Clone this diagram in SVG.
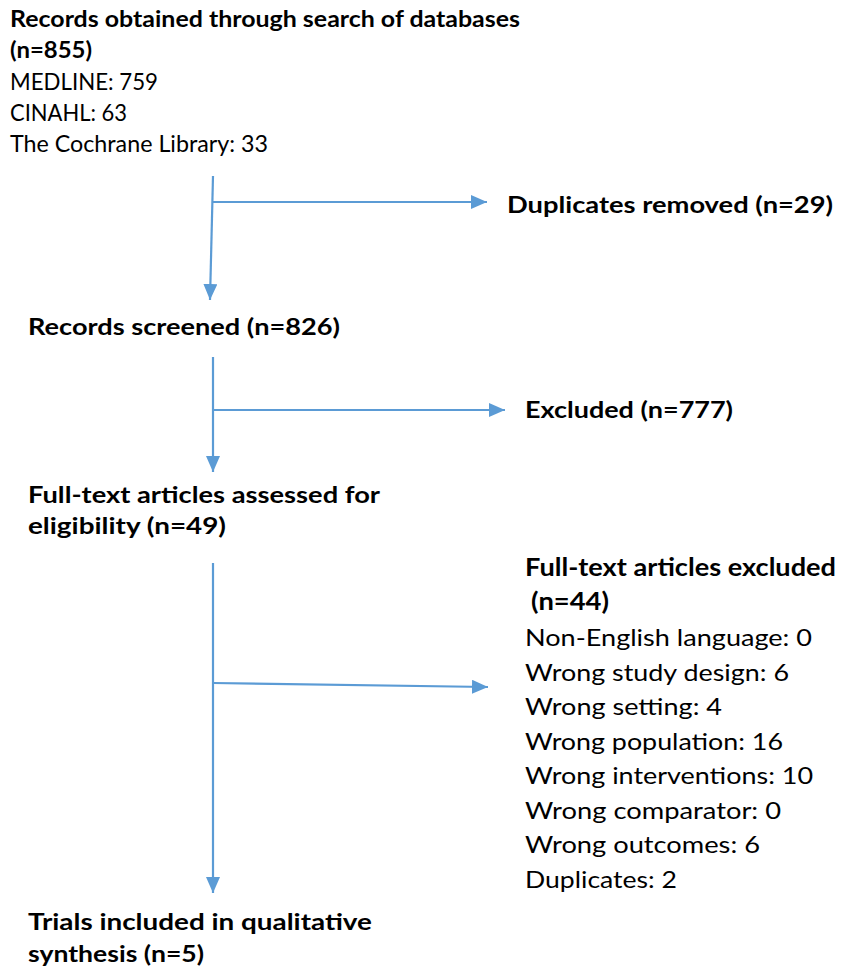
<svg xmlns="http://www.w3.org/2000/svg" width="841" height="975" viewBox="0 0 841 975">
<style>
text{font-family:Lato,"Liberation Sans",sans-serif;fill:#000;}
.b{font-weight:bold;font-size:23px;}
.r{font-size:23px;}
.rb{font-weight:bold;font-size:24px;}
.rr{font-size:24px;}
.c{stroke:#5B9BD5;stroke-width:2.2;fill:none;}
</style>
<defs>
<marker id="a" markerWidth="16" markerHeight="14" refX="16" refY="7" orient="auto" markerUnits="userSpaceOnUse">
<path d="M0,0 L16,7 L0,14 z" fill="#5B9BD5"/>
</marker>
</defs>
<g id="n1">
<text class="b" x="10" y="27" textLength="510" lengthAdjust="spacingAndGlyphs">Records obtained through search of databases</text>
<text class="b" x="10" y="58" textLength="82" lengthAdjust="spacingAndGlyphs">(n=855)</text>
<text class="r" x="10" y="90" textLength="148" lengthAdjust="spacingAndGlyphs">MEDLINE: 759</text>
<text class="r" x="10" y="121" textLength="117" lengthAdjust="spacingAndGlyphs">CINAHL: 63</text>
<text class="r" x="10" y="152" textLength="258" lengthAdjust="spacingAndGlyphs">The Cochrane Library: 33</text>
</g>
<g id="n2">
<text class="b" x="507" y="213" textLength="326" lengthAdjust="spacingAndGlyphs">Duplicates removed (n=29)</text>
</g>
<g id="n3">
<text class="b" x="28" y="335" textLength="312" lengthAdjust="spacingAndGlyphs">Records screened (n=826)</text>
</g>
<g id="n4">
<text class="b" x="525" y="418" textLength="208" lengthAdjust="spacingAndGlyphs">Excluded (n=777)</text>
</g>
<g id="n5">
<text class="b" x="28" y="503" textLength="352" lengthAdjust="spacingAndGlyphs">Full-text articles assessed for</text>
<text class="b" x="28" y="534" textLength="198" lengthAdjust="spacingAndGlyphs">eligibility (n=49)</text>
</g>
<g id="n6">
<text class="rb" x="525" y="576" textLength="311" lengthAdjust="spacingAndGlyphs">Full-text articles excluded</text>
<text class="rb" x="531" y="610" textLength="78" lengthAdjust="spacingAndGlyphs">(n=44)</text>
<text class="rr" x="525" y="646" textLength="287" lengthAdjust="spacingAndGlyphs">Non-English language: 0</text>
<text class="rr" x="525" y="681" textLength="264" lengthAdjust="spacingAndGlyphs">Wrong study design: 6</text>
<text class="rr" x="525" y="715" textLength="197" lengthAdjust="spacingAndGlyphs">Wrong setting: 4</text>
<text class="rr" x="525" y="750" textLength="258" lengthAdjust="spacingAndGlyphs">Wrong population: 16</text>
<text class="rr" x="525" y="784" textLength="288" lengthAdjust="spacingAndGlyphs">Wrong interventions: 10</text>
<text class="rr" x="525" y="819" textLength="256" lengthAdjust="spacingAndGlyphs">Wrong comparator: 0</text>
<text class="rr" x="525" y="853" textLength="235" lengthAdjust="spacingAndGlyphs">Wrong outcomes: 6</text>
<text class="rr" x="525" y="888" textLength="152" lengthAdjust="spacingAndGlyphs">Duplicates: 2</text>
</g>
<g id="n7">
<text class="b" x="28" y="930" textLength="344" lengthAdjust="spacingAndGlyphs">Trials included in qualitative</text>
<text class="b" x="28" y="962" textLength="176" lengthAdjust="spacingAndGlyphs">synthesis (n=5)</text>
</g>
<g id="connectors">
<path class="c" d="M213,176 L210,300" marker-end="url(#a)"/>
<path class="c" d="M213,202 L487,202" marker-end="url(#a)"/>
<path class="c" d="M213,357 L213,472" marker-end="url(#a)"/>
<path class="c" d="M213,410 L505,410" marker-end="url(#a)"/>
<path class="c" d="M213,563 L213,893" marker-end="url(#a)"/>
<path class="c" d="M213,683 L488,687" marker-end="url(#a)"/>
</g>
</svg>
